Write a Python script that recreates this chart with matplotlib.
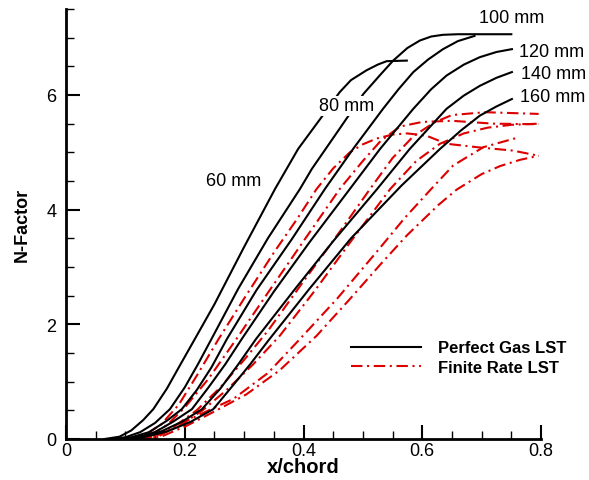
import matplotlib
matplotlib.use('Agg')
import matplotlib.pyplot as plt
from matplotlib.ticker import MultipleLocator
from matplotlib.lines import Line2D

plt.rcParams['font.family'] = ['Liberation Sans', 'DejaVu Sans']

# ---- Perfect gas LST (black solid) ----
x_pg_60 = [0.065, 0.09, 0.11, 0.13, 0.147, 0.17, 0.19, 0.217, 0.25, 0.30, 0.352, 0.391, 0.428, 0.461, 0.48, 0.506, 0.525, 0.540, 0.574]
n_pg_60 = [0.0, 0.04, 0.15, 0.33, 0.52, 0.88, 1.25, 1.744, 2.35, 3.35, 4.36, 5.06, 5.58, 6.05, 6.26, 6.43, 6.53, 6.59, 6.60]
x_pg_80 = [0.075, 0.10, 0.125, 0.15, 0.175, 0.20, 0.222, 0.245, 0.290, 0.34, 0.394, 0.414, 0.46, 0.501, 0.53, 0.551, 0.575, 0.596, 0.615, 0.635, 0.66, 0.75]
n_pg_80 = [0.0, 0.03, 0.12, 0.28, 0.52, 0.9, 1.3, 1.744, 2.62, 3.5, 4.36, 4.71, 5.4, 6.02, 6.36, 6.6, 6.82, 6.95, 7.02, 7.05, 7.06, 7.06]
x_pg_100 = [0.08, 0.11, 0.14, 0.17, 0.195, 0.22, 0.245, 0.271, 0.321, 0.38, 0.436, 0.485, 0.534, 0.56, 0.585, 0.61, 0.635, 0.66, 0.688]
n_pg_100 = [0.0, 0.03, 0.12, 0.32, 0.52, 0.85, 1.25, 1.744, 2.6, 3.48, 4.36, 5.08, 5.76, 6.1, 6.4, 6.62, 6.8, 6.94, 7.03]
x_pg_120 = [0.085, 0.12, 0.15, 0.18, 0.212, 0.24, 0.268, 0.296, 0.35, 0.41, 0.478, 0.529, 0.585, 0.615, 0.641, 0.67, 0.697, 0.725, 0.751]
n_pg_120 = [0.0, 0.03, 0.12, 0.3, 0.52, 0.9, 1.3, 1.744, 2.57, 3.43, 4.36, 5.06, 5.76, 6.1, 6.34, 6.53, 6.66, 6.75, 6.80]
x_pg_140 = [0.09, 0.125, 0.16, 0.195, 0.229, 0.26, 0.29, 0.32, 0.386, 0.45, 0.524, 0.579, 0.641, 0.67, 0.697, 0.725, 0.751]
n_pg_140 = [0.0, 0.03, 0.13, 0.3, 0.52, 0.88, 1.3, 1.744, 2.62, 3.45, 4.36, 5.06, 5.76, 5.99, 6.16, 6.3, 6.40]
x_pg_160 = [0.095, 0.13, 0.17, 0.21, 0.248, 0.28, 0.31, 0.341, 0.41, 0.48, 0.565, 0.630, 0.665, 0.697, 0.725, 0.751]
n_pg_160 = [0.0, 0.03, 0.13, 0.3, 0.52, 0.92, 1.3, 1.72, 2.62, 3.5, 4.42, 5.06, 5.38, 5.64, 5.8, 5.93]

# ---- Finite rate LST (red dash-dot) ----
x_fr_60 = [0.10, 0.13, 0.16, 0.19, 0.22, 0.257, 0.30, 0.35, 0.39, 0.422, 0.45, 0.478, 0.50, 0.523, 0.55, 0.575, 0.607, 0.641, 0.692, 0.753, 0.796]
n_fr_60 = [0.0, 0.05, 0.25, 0.6, 1.1, 1.744, 2.45, 3.25, 3.85, 4.36, 4.72, 5.0, 5.14, 5.24, 5.31, 5.33, 5.29, 5.15, 5.09, 5.03, 4.94]
x_fr_80 = [0.105, 0.14, 0.17, 0.20, 0.24, 0.287, 0.34, 0.40, 0.461, 0.50, 0.53, 0.5625, 0.60, 0.65, 0.72, 0.796]
n_fr_80 = [0.0, 0.06, 0.24, 0.55, 1.05, 1.744, 2.55, 3.45, 4.36, 4.85, 5.2, 5.45, 5.53, 5.55, 5.5, 5.49]
x_fr_100 = [0.11, 0.145, 0.18, 0.22, 0.26, 0.30, 0.341, 0.40, 0.46, 0.512, 0.55, 0.585, 0.62, 0.65, 0.706, 0.796]
n_fr_100 = [0.0, 0.05, 0.2, 0.5, 0.9, 1.38, 1.9, 2.75, 3.6, 4.36, 4.9, 5.28, 5.52, 5.65, 5.70, 5.67]
x_fr_120 = [0.115, 0.15, 0.19, 0.23, 0.27, 0.315, 0.36, 0.42, 0.48, 0.546, 0.59, 0.63, 0.67, 0.71, 0.75, 0.796]
n_fr_120 = [0.0, 0.05, 0.22, 0.5, 0.85, 1.3, 1.8, 2.6, 3.45, 4.36, 4.85, 5.15, 5.33, 5.43, 5.48, 5.5]
x_fr_140 = [0.12, 0.155, 0.186, 0.23, 0.282, 0.34, 0.394, 0.456, 0.527, 0.57, 0.615, 0.652, 0.703, 0.762]
n_fr_140 = [0.0, 0.04, 0.23, 0.45, 0.70, 1.15, 1.744, 2.44, 3.31, 3.85, 4.36, 4.77, 5.09, 5.26]
x_fr_160 = [0.125, 0.16, 0.203, 0.25, 0.304, 0.36, 0.422, 0.478, 0.53, 0.574, 0.627, 0.658, 0.70, 0.731, 0.765, 0.796]
n_fr_160 = [0.0, 0.04, 0.23, 0.48, 0.78, 1.2, 1.8, 2.44, 3.05, 3.55, 4.08, 4.35, 4.62, 4.76, 4.87, 4.94]

labels_text = ["60 mm", "80 mm", "100 mm", "120 mm", "140 mm", "160 mm"]
labels_x = [0.282, 0.473, 0.75, 0.817, 0.822, 0.82]
labels_y = [4.5, 5.81, 7.36, 6.75, 6.37, 5.98]

x_ticks = [0, 0.2, 0.4, 0.6, 0.8]
y_ticks = [0, 2, 4, 6]

fig = plt.figure(figsize=(5.89, 4.81), dpi=100)
ax = fig.add_axes([66/589, 1-440/481, 475/589, 430/481])

red = '#dd0000'
pg = [(x_pg_60, n_pg_60), (x_pg_80, n_pg_80), (x_pg_100, n_pg_100),
      (x_pg_120, n_pg_120), (x_pg_140, n_pg_140), (x_pg_160, n_pg_160)]
fr = [(x_fr_60, n_fr_60), (x_fr_80, n_fr_80), (x_fr_100, n_fr_100),
      (x_fr_120, n_fr_120), (x_fr_140, n_fr_140), (x_fr_160, n_fr_160)]
dash = (0, (5.5, 2.2, 1.0, 2.2))
for xs, ys in fr:
    ax.plot(xs, ys, color=red, lw=1.5, ls=dash, zorder=2, clip_on=False)
for xs, ys in pg:
    ax.plot(xs, ys, color='black', lw=1.5, zorder=3, clip_on=False)

for t, lx, ly in zip(labels_text, labels_x, labels_y):
    ax.text(lx, ly, t, fontsize=13, ha='center', va='center', zorder=5,
            bbox=dict(facecolor='white', edgecolor='none', pad=1.0), clip_on=False)

ax.set_xlim(0, 0.8)
ax.set_ylim(0, 7.5)
ax.set_xticks(x_ticks)
ax.set_xticklabels(['0', '0.2', '0.4', '0.6', '0.8'])
ax.set_yticks(y_ticks)
ax.xaxis.set_minor_locator(MultipleLocator(0.05))
ax.yaxis.set_minor_locator(MultipleLocator(0.5))
ax.tick_params(which='both', direction='in', labelsize=13, width=1.5)
ax.tick_params(which='major', length=10)
ax.tick_params(which='minor', length=6, width=1.0)
ax.tick_params(axis='x', pad=2)
ax.tick_params(axis='y', pad=7)
for s in ['top', 'right']:
    ax.spines[s].set_visible(False)
for s in ['left', 'bottom']:
    ax.spines[s].set_linewidth(2)

ax.set_xlabel('x/chord', fontsize=14.5, fontweight='bold', labelpad=-1)
ax.set_ylabel('N-Factor', fontsize=13, fontweight='bold', labelpad=11)

handles = [Line2D([], [], color='black', lw=1.5),
           Line2D([], [], color=red, lw=1.5, ls=dash)]
leg = ax.legend(handles, ['Perfect Gas LST', 'Finite Rate LST'], frameon=False,
                prop={'weight': 'bold', 'size': 12}, handlelength=4.2,
                handletextpad=1.0, labelspacing=0.28, borderpad=0,
                loc='upper left', bbox_to_anchor=((343-66)/475, (440-333)/430))

fig.savefig('out.png', dpi=100)
